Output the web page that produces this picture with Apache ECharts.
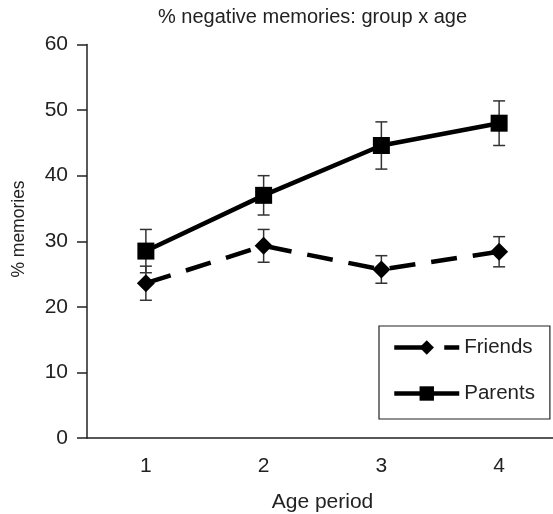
<!DOCTYPE html>
<html>
<head>
<meta charset="utf-8">
<script src="https://cdn.jsdelivr.net/npm/echarts@6/dist/echarts.min.js"></script>
<style>html,body{margin:0;padding:0;background:#fff}#c{width:553px;height:514px}</style>
</head>
<body>
<div id="c"></div>
<script>
const categories = ['1', '2', '3', '4'];
const friends = [23.6, 29.3, 25.7, 28.4];
const friendsErr = [2.6, 2.5, 2.1, 2.3];
const parents = [28.5, 37.0, 44.6, 48.0];
const parentsErr = [3.3, 3.0, 3.6, 3.4];
const yTicks = [0, 10, 20, 30, 40, 50, 60];

const FONT = '"Liberation Sans", Arial, Helvetica, sans-serif';
const INK = '#222';

function errData(vals, errs) {
  return vals.map((v, i) => [i, v - errs[i], v + errs[i]]);
}
function errRender(params, api) {
  const x = api.value(0);
  const lo = api.coord([x, api.value(1)]);
  const hi = api.coord([x, api.value(2)]);
  const half = 6;
  const st = { stroke: '#333', lineWidth: 1.5 };
  return {
    type: 'group',
    children: [
      { type: 'line', shape: { x1: lo[0], y1: lo[1], x2: hi[0], y2: hi[1] }, style: st },
      { type: 'line', shape: { x1: hi[0] - half, y1: hi[1], x2: hi[0] + half, y2: hi[1] }, style: st },
      { type: 'line', shape: { x1: lo[0] - half, y1: lo[1], x2: lo[0] + half, y2: lo[1] }, style: st }
    ]
  };
}

const chart = echarts.init(document.getElementById('c'), null, { renderer: 'canvas' });
chart.setOption({
  animation: false,
  backgroundColor: '#fff',
  textStyle: { fontFamily: FONT, color: INK },
  title: {
    text: '% negative memories: group x age',
    left: 158, top: 7, padding: 0,
    textStyle: { fontFamily: FONT, fontSize: 20, fontWeight: 'normal', color: INK }
  },
  grid: { left: 87, top: 44.5, width: 471, height: 393.5, containLabel: false, outerBoundsMode: 'none' },
  legend: {
    data: [
      { name: 'Friends', lineStyle: { width: 4.5, type: [34, 16], color: '#000' } },
      { name: 'Parents', lineStyle: { width: 4.5, type: 'solid', color: '#000' } }
    ],
    orient: 'vertical',
    left: 379, top: 326,
    padding: [11, 15, 15, 13],
    itemWidth: 65, itemHeight: 18, itemGap: 25, itemTextGap: 11,
    borderColor: INK, borderWidth: 1.2,
    textStyle: { fontFamily: FONT, fontSize: 20.5, color: INK, lineHeight: 20 }
  },
  xAxis: {
    type: 'category',
    data: categories,
    boundaryGap: true,
    name: 'Age period',
    nameLocation: 'middle',
    nameGap: 54,
    nameTextStyle: { fontFamily: FONT, fontSize: 21, color: INK },
    axisLine: { lineStyle: { color: INK, width: 1.5 } },
    axisTick: { length: 10, lineStyle: { color: INK, width: 1.5 } },
    axisLabel: { margin: 18, fontFamily: FONT, fontSize: 21, color: INK }
  },
  yAxis: {
    type: 'value',
    min: 0, max: 60, interval: 10,
    axisLine: { show: true, lineStyle: { color: INK, width: 1.5 } },
    axisTick: { show: true, length: 10, lineStyle: { color: INK, width: 1.5 } },
    axisLabel: {
      margin: 19, fontFamily: FONT, fontSize: 21, color: INK,
      formatter: v => (yTicks.indexOf(v) >= 0 ? String(v) : '')
    },
    splitLine: { show: false }
  },
  graphic: [{
    type: 'text',
    x: 19, y: 229, rotation: Math.PI / 2,
    style: { text: '% memories', font: '17.5px ' + FONT, fill: INK, align: 'center', verticalAlign: 'middle' }
  }],
  series: [
    {
      name: 'Friends err', type: 'custom', renderItem: errRender,
      data: errData(friends, friendsErr), z: 1, silent: true
    },
    {
      name: 'Parents err', type: 'custom', renderItem: errRender,
      data: errData(parents, parentsErr), z: 1, silent: true
    },
    {
      name: 'Friends', type: 'line', data: friends, z: 3,
      symbol: 'diamond', symbolSize: 18,
      lineStyle: { color: '#000', width: 4.5, type: [26, 16] },
      itemStyle: { color: '#000' }
    },
    {
      name: 'Parents', type: 'line', data: parents, z: 4,
      symbol: 'rect', symbolSize: 17,
      lineStyle: { color: '#000', width: 4.5, type: 'solid' },
      itemStyle: { color: '#000' }
    }
  ]
});
</script>
</body>
</html>
